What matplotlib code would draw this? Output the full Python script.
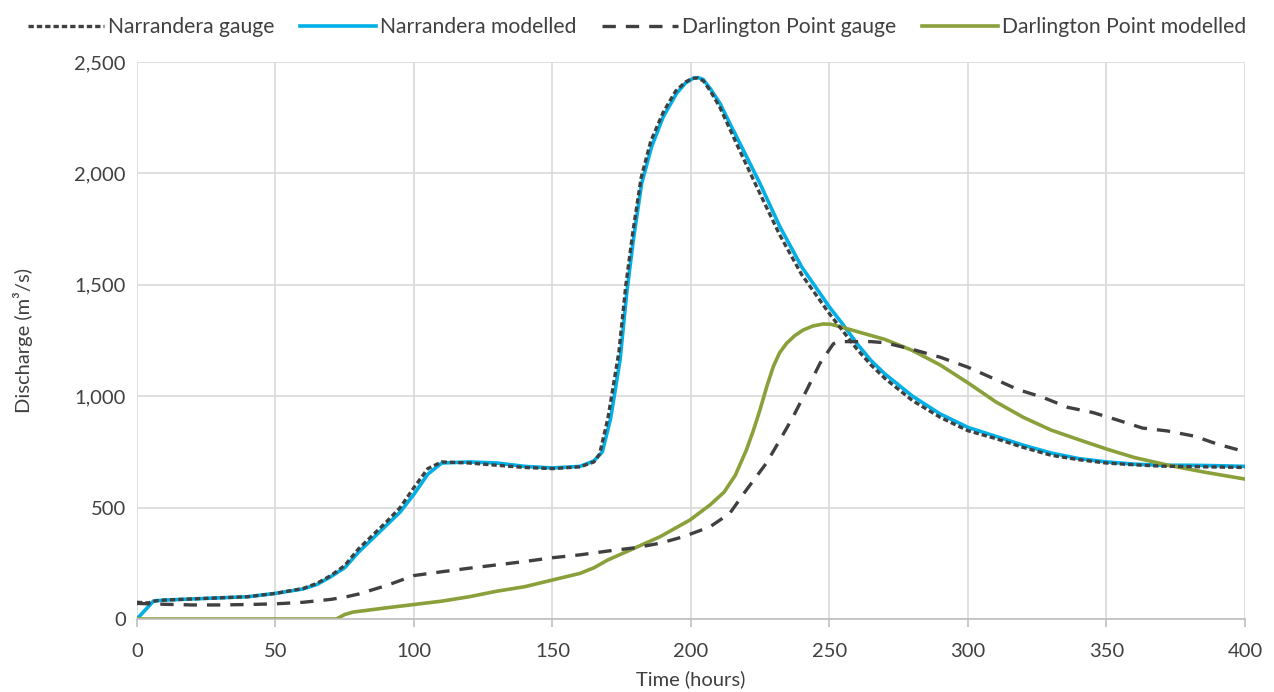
import matplotlib.pyplot as plt
from matplotlib.ticker import FuncFormatter

plt.rcParams['font.family'] = ['Lato', 'DejaVu Sans']

# Narrandera modelled
nm_t = [0, 6, 10, 20, 30, 40, 50, 60, 65, 70, 75, 80, 90, 95, 100, 105, 110, 120, 130,
        140, 150, 160, 165, 168, 171, 174.4, 176.8, 179.2, 182.2, 185.8, 190, 194.8, 198,
        200.8, 202.5, 204.4, 207, 210.5, 214, 217.7, 224.9, 232.1, 240, 250, 255, 260,
        265, 270, 280, 290, 300, 310, 320, 330, 340, 350, 360, 370, 380, 390, 400]
nm_q = [0, 81, 85, 90, 95, 100, 115, 135, 155, 190, 230, 300, 420, 480, 560, 650, 700,
        705, 700, 685, 678, 685, 710, 750, 900, 1162, 1462, 1701, 1955, 2120, 2254, 2359,
        2405, 2427, 2430, 2422, 2380, 2314, 2225, 2134, 1955, 1761, 1580, 1400, 1320,
        1235, 1160, 1100, 1000, 920, 860, 820, 780, 745, 720, 705, 695, 690, 690, 688, 685]

# Narrandera gauge
ng_t = [0, 4, 7, 10, 20, 30, 40, 50, 60, 65, 70, 75, 80, 90, 95, 100, 105, 110, 120, 130,
        140, 150, 160, 165, 167, 170, 174, 176.5, 179, 182, 185.5, 190, 194.5, 198, 200.5,
        202.5, 204.5, 207, 210.5, 214, 217.5, 224.5, 232, 240, 250, 255, 260, 265, 270,
        280, 290, 300, 310, 320, 330, 340, 350, 360, 370, 380, 390, 400]
ng_q = [75, 72, 82, 85, 90, 95, 100, 115, 137, 160, 195, 240, 315, 435, 500, 590, 675,
        705, 700, 690, 680, 675, 683, 705, 740, 900, 1200, 1500, 1735, 1980, 2145, 2275,
        2370, 2410, 2427, 2428, 2415, 2370, 2295, 2200, 2105, 1920, 1725, 1545, 1370,
        1290, 1210, 1140, 1080, 980, 905, 845, 810, 770, 735, 715, 700, 692, 686, 684,
        682, 680]

# Darlington Point gauge
dg_t = [0, 10, 20, 30, 40, 50, 60, 70, 75, 80, 90, 100, 110, 120, 130, 140, 150, 160,
        170, 180, 188.8, 197.2, 206.9, 214, 220, 227.2, 232.1, 236.9, 241.8, 246.6, 251.4,
        253, 265, 270, 280, 290, 300, 310, 318, 327, 336, 345, 354, 363, 372, 382, 390, 400]
dg_q = [70, 66, 63, 63, 65, 68, 75, 88, 98, 112, 150, 195, 212, 228, 243, 258, 275, 288,
        305, 320, 340, 369, 414, 474, 579, 699, 803, 908, 1028, 1148, 1235, 1245, 1245,
        1240, 1210, 1175, 1130, 1075, 1030, 995, 950, 927, 893, 857, 844, 820, 785, 751]

# Darlington Point modelled
dm_t = [0, 72, 75, 78, 90, 100, 110, 120, 130, 140, 150, 160, 165, 170, 180, 188.8,
        199.6, 206.9, 212, 216, 220, 222.5, 224.9, 227.3, 229.7, 232, 234.5, 237.5, 240.5,
        244, 247.7, 250.5, 253.8, 260, 270, 280, 290, 300, 310, 320, 330, 340, 350, 360,
        372, 385, 400]
dm_q = [0, 0, 20, 31, 50, 65, 80, 100, 125, 145, 175, 205, 230, 265, 320, 369, 444, 512,
        570, 645, 758, 845, 938, 1040, 1132, 1195, 1237, 1272, 1297, 1315, 1324, 1323,
        1312, 1290, 1255, 1205, 1140, 1060, 975, 905, 848, 805, 763, 725, 691, 660, 628]

dark = '#404040'
blue = '#00b0e6'
green = '#8aa03a'

fig = plt.figure(figsize=(12.74, 6.92), dpi=100)
ax = fig.add_axes([0.1075, 0.1055, 0.8697, 0.8049])

ax.plot(ng_t, ng_q, color=dark, lw=2.4, linestyle=(0, (1.6, 0.9)), label='Narrandera gauge', zorder=3)
ax.plot(nm_t, nm_q, color=blue, lw=2.6, label='Narrandera modelled', zorder=2)
ax.plot(dg_t, dg_q, color=dark, lw=2.4, linestyle=(0, (4, 3)), label='Darlington Point gauge', zorder=3)
ax.plot(dm_t, dm_q, color=green, lw=2.6, label='Darlington Point modelled', zorder=2)

ax.set_xlim(0, 400)
ax.set_ylim(0, 2500)
ax.set_xticks(range(0, 401, 50))
ax.set_yticks(range(0, 2501, 500))
ax.yaxis.set_major_formatter(FuncFormatter(lambda v, p: f'{int(v):,}'))
ax.grid(True, color='#d9d9d9', lw=1.2)
ax.set_axisbelow(True)
for s in ['top', 'right', 'left']:
    ax.spines[s].set_visible(False)
ax.spines['bottom'].set_color('#bfbfbf')
ax.spines['bottom'].set_linewidth(1.2)
ax.tick_params(axis='x', colors='#bfbfbf', length=6, width=1.2, labelcolor='#404040',
               labelsize=14.5, pad=11)
ax.tick_params(axis='y', length=0, labelcolor='#404040', labelsize=14.5, pad=8)

ax.set_xlabel('Time (hours)', fontsize=14.5, color='#404040', labelpad=8)
ax.set_ylabel('Discharge (m³/s)', fontsize=14.5, color='#404040', labelpad=30)

fig.legend(loc='upper center', bbox_to_anchor=(0.5, 1.003), ncol=4, frameon=False,
           fontsize=15.2, handlelength=3.6, handletextpad=0.2, columnspacing=1.2,
           labelcolor='#404040')

fig.savefig('out.png', dpi=100)
